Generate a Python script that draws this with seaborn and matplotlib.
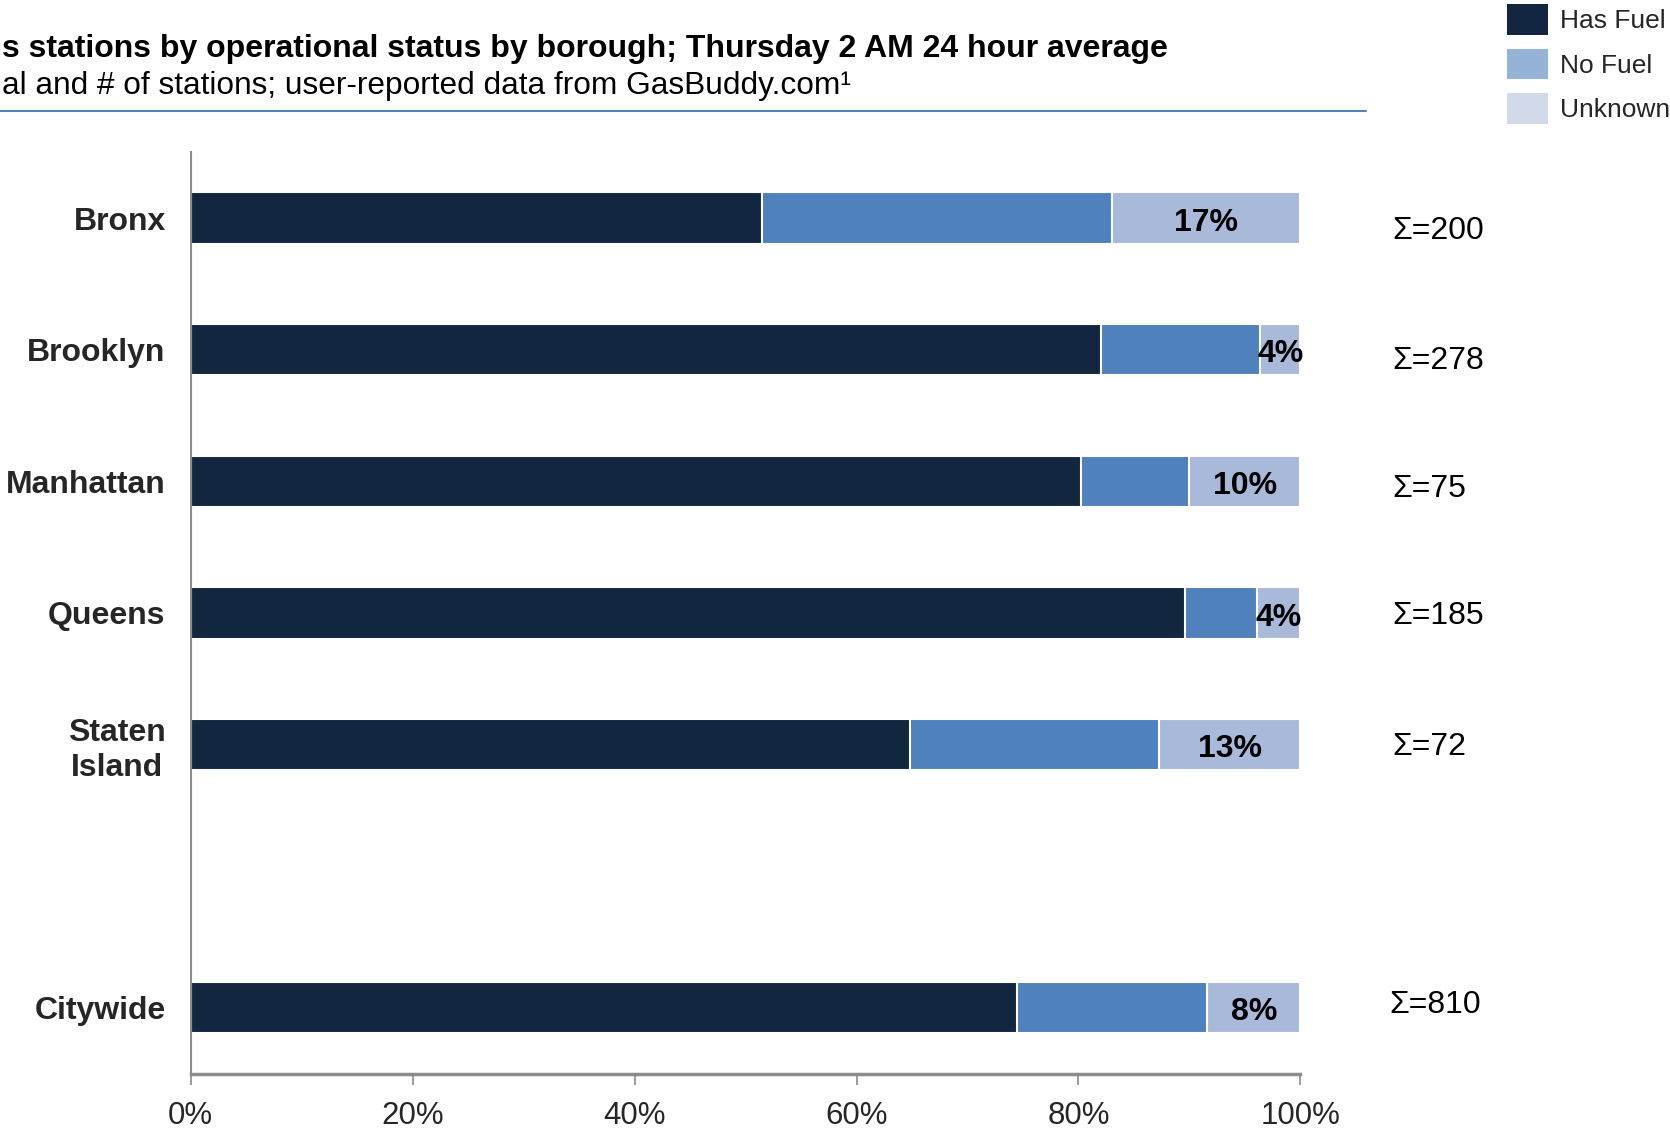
import matplotlib
matplotlib.use("Agg")
import matplotlib.pyplot as plt
from matplotlib.patches import Patch
from matplotlib.lines import Line2D
import seaborn as sns
import pandas as pd

sns.set_theme(style="white")
plt.rcParams["font.family"] = ["Liberation Sans", "DejaVu Sans"]

# Share of stations per borough (percent of total)
boroughs = ["Bronx", "Brooklyn", "Manhattan", "Queens", "Staten\nIsland", "Citywide"]
has_fuel = [51.5, 82.0, 80.2, 89.6, 64.8, 74.5]
no_fuel = [31.5, 14.4, 9.8, 6.5, 22.5, 17.1]
unknown = [17.0, 3.6, 10.0, 3.9, 12.7, 8.4]
station_counts = [200, 278, 75, 185, 72, 810]

x_ticks = [0, 20, 40, 60, 80, 100]
x_tick_labels = ["0%", "20%", "40%", "60%", "80%", "100%"]

title = "s stations by operational status by borough; Thursday 2 AM 24 hour average"
subtitle = "al and # of stations; user-reported data from GasBuddy.com\u00b9"

series_names = ["Has Fuel", "No Fuel", "Unknown"]
bar_colors = ["#12263F", "#4F81BD", "#A9B9D9"]
legend_colors = ["#12263F", "#95B3D7", "#D0DAE8"]

# vertical nudge of the station-count labels (in bar slots)
sum_label_dy = [0.065, 0.057, 0.032, -0.008, -0.008, -0.05]

# empty slot separates the boroughs from the citywide total
order = boroughs[:5] + [" "] + boroughs[5:]

df = pd.DataFrame({
    "borough": boroughs,
    "has": has_fuel,
    "no": no_fuel,
    "unk": unknown,
})
df["cum_has"] = df["has"]
df["cum_no"] = df["has"] + df["no"]
df["cum_unk"] = df["has"] + df["no"] + df["unk"]

fig = plt.figure(figsize=(16.7, 11.3), dpi=100)
ax = fig.add_axes([0.1142, 0.05, 0.6645, 0.8152])

# stacked bars: draw cumulative totals from the widest segment down
for col, color in zip(["cum_unk", "cum_no", "cum_has"], bar_colors[::-1]):
    sns.barplot(data=df, x=col, y="borough", order=order, orient="h",
                color=color, width=0.39, edgecolor="white", linewidth=1.5,
                saturation=1, ax=ax, errorbar=None)

ax.set_xlim(0, 100)
ax.set_ylim(6.5, -0.5)
ax.set_xlabel("")
ax.set_ylabel("")
ax.set_xticks(x_ticks)
ax.set_xticklabels(x_tick_labels, fontsize=22.5)
ax.tick_params(axis="x", direction="out", length=8, width=1.2, color="#8C8C8C",
               pad=12, bottom=True)
ax.tick_params(axis="y", length=0, pad=18)
ypos = [order.index(b) for b in boroughs]
ax.set_yticks(ypos)
ax.set_yticklabels(boroughs, fontsize=23, fontweight="bold", multialignment="center")

for side in ["top", "right"]:
    ax.spines[side].set_visible(False)
ax.spines["left"].set_color("#8C8C8C")
ax.spines["left"].set_linewidth(1.5)
ax.spines["bottom"].set_color("#8C8C8C")
ax.spines["bottom"].set_linewidth(2.5)

# unknown share labels and station totals
for i, (y, h, n, u, cnt) in enumerate(zip(ypos, has_fuel, no_fuel, unknown,
                                           station_counts)):
    ax.text(h + n + u / 2, y + 0.035, f"{round(u)}%", ha="center", va="center",
            fontsize=23, fontweight="bold", color="black")
    sx = 108.0 if i == len(boroughs) - 1 else 108.3
    ax.text(sx, y + sum_label_dy[i] + 0.03, f"\u03a3={cnt}", ha="left", va="center",
            fontsize=23, color="black", clip_on=False)

fig.text(0.001, 1 - 49 / 1130, title, ha="left", va="center",
         fontsize=23, fontweight="bold", color="black")
fig.text(0.001, 1 - 86 / 1130, subtitle, ha="left", va="center",
         fontsize=22.8, color="black")
fig.add_artist(Line2D([0, 1366 / 1670], [1 - 111 / 1130] * 2,
                      transform=fig.transFigure, color="#4F81BD", lw=1.5))

handles = [Patch(facecolor=c, edgecolor="none") for c in legend_colors]
fig.legend(handles, series_names, loc="upper left",
           bbox_to_anchor=(1507 / 1670, 1 - 4 / 1130), frameon=False,
           fontsize=19, handlelength=1.55, handleheight=1.42,
           handletextpad=0.45, labelspacing=0.52, borderpad=0, borderaxespad=0)

fig.savefig("out.png", dpi=100)
